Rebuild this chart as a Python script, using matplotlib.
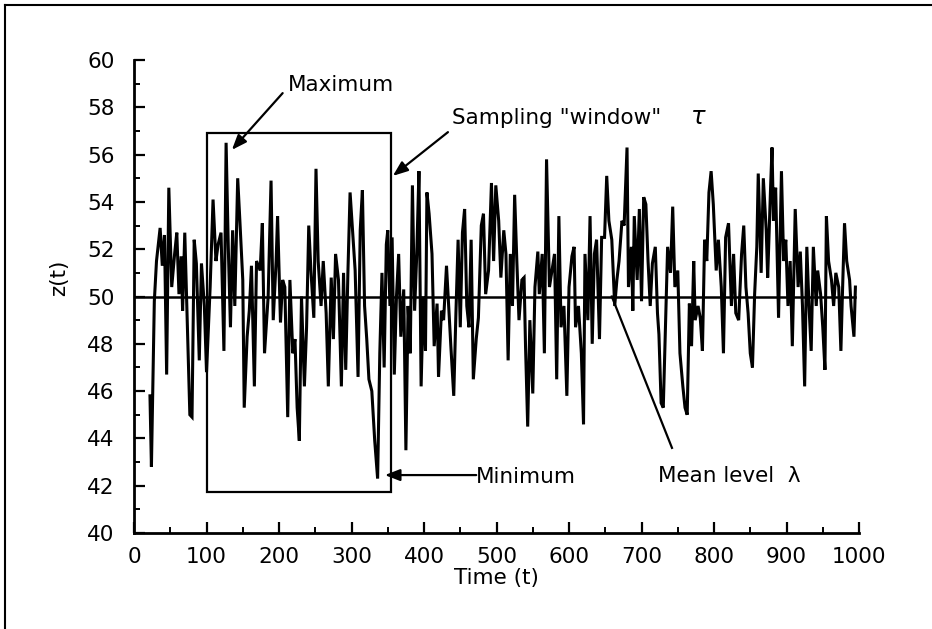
import matplotlib
matplotlib.use("Agg")
import matplotlib.pyplot as plt
from matplotlib.lines import Line2D
from matplotlib.patches import Rectangle

# time series (local peaks and troughs)
t_vals = [
    22, 24, 28, 31, 36, 39, 42, 45, 48, 52, 56, 59, 62, 65, 67, 70, 74, 77, 80,
    83, 86, 90, 93, 97, 100, 105, 109, 113, 116, 120, 124, 127, 130, 133, 136,
    139, 143, 146, 150, 152, 156, 159, 162, 166, 169, 174, 177, 180,
    185, 189, 192, 196, 198, 202, 205, 208, 212, 215, 219, 222, 225, 228, 231,
    235, 238, 241, 244, 248, 251, 254, 258, 261, 265, 268, 272, 275, 278, 282,
    286, 289, 292, 295, 298, 301, 305, 309, 312, 315, 318, 321, 324, 328, 332,
    336, 339, 342, 345, 348,
    350, 353, 356, 359, 362, 365, 368, 372, 375, 378, 381, 384, 387, 390, 393,
    396, 399, 402, 404, 407, 411, 414, 418, 420, 424, 427, 431, 434, 437, 441,
    444, 447, 450, 453, 456, 459, 462, 465, 468, 472, 475, 479, 482, 485, 489,
    493, 496, 499, 503, 506, 510,
    513, 516, 519, 522, 525, 528, 531, 535, 538, 540, 543, 546, 550, 553, 557,
    559, 563, 566, 569, 573, 576, 580, 583, 586, 589, 593, 597, 600, 604, 607,
    609, 613, 617, 620, 622, 626, 629, 632, 635, 638, 642, 645, 649, 652, 655,
    659, 663, 666, 669, 673, 676,
    680, 682, 686, 688, 690, 694, 697, 700, 703, 706, 709, 712, 715, 719, 722,
    724, 727, 730, 733, 736, 740, 743, 746, 750, 753, 757, 760, 763, 766, 769,
    772, 774, 778, 781, 784, 787, 790, 793, 796, 799, 803, 806, 810, 813, 816,
    820, 824, 827, 830, 834, 838, 841,
    844, 847, 850, 853, 856, 859, 861, 865, 868, 872, 874, 878, 880, 882, 885,
    889, 893, 896, 899, 902, 905, 908, 912, 916, 919, 922, 925, 928, 931, 934,
    937, 941, 943, 947, 950, 953, 955, 958, 962, 965, 968, 972, 975, 977, 980,
    983, 987, 989, 993, 995,
]
z_vals = [
    45.8, 42.8, 49.8, 51.5, 52.9, 51.3, 52.6, 46.7, 54.6, 50.4, 51.8, 52.7, 50.1,
    51.7, 49.4, 52.7, 48.3, 45.0, 44.9, 52.4, 51.4, 47.3, 51.4, 49.6, 46.8, 50.4,
    54.1, 51.5, 52.2, 52.7, 47.7, 56.5, 52.1, 48.7, 52.8, 49.6, 55.0, 53.2, 50.7,
    45.3, 48.3, 49.4, 51.3, 46.2, 51.5, 51.1, 53.1, 47.6,
    50.0, 54.9, 49.0, 51.5, 53.4, 48.9, 50.7, 50.4, 44.9, 50.7, 47.6, 48.2, 45.3,
    43.9, 50.0, 46.2, 48.7, 53.0, 51.1, 49.1, 55.4, 51.5, 49.6, 51.5, 49.3, 46.2,
    50.8, 48.2, 51.8, 50.7, 46.2, 51.0, 46.9, 51.0, 54.4, 53.0, 51.1, 46.6, 52.8,
    54.5, 49.6, 48.2, 46.5, 46.0, 43.9, 42.3, 47.6, 51.0, 47.0, 52.2,
    52.8, 49.6, 52.5, 46.7, 50.0, 51.8, 48.3, 50.3, 43.5, 49.6, 47.6, 54.7, 49.4,
    51.8, 55.3, 46.2, 50.0, 47.7, 54.4, 53.5, 51.8, 47.9, 49.7, 46.6, 49.4, 49.0,
    51.3, 49.6, 47.9, 45.8, 49.3, 52.4, 48.7, 52.7, 53.7, 49.6, 48.7, 52.4, 46.5,
    48.2, 49.1, 53.0, 53.5, 50.1, 51.1, 54.8, 51.5, 54.7, 53.2, 50.8, 52.8,
    51.8, 47.3, 51.8, 49.6, 54.3, 51.5, 49.0, 50.7, 50.8, 47.9, 44.5, 49.0, 45.9,
    50.4, 51.9, 50.1, 51.8, 47.6, 55.8, 50.4, 51.0, 51.8, 46.5, 53.4, 48.7, 49.6,
    45.8, 50.4, 51.7, 52.1, 48.7, 49.6, 47.6, 44.6, 51.8, 49.0, 53.4, 48.0, 51.8,
    52.4, 48.2, 52.5, 52.5, 55.1, 53.2, 52.4, 49.6, 50.7, 51.5, 53.2, 53.0,
    56.3, 50.4, 52.1, 49.4, 53.4, 50.7, 53.7, 49.8, 54.2, 53.9, 51.5, 49.6, 51.4,
    52.1, 49.3, 48.4, 45.5, 45.3, 48.7, 52.1, 51.0, 53.8, 50.4, 51.1, 47.6, 46.2,
    45.3, 45.0, 49.7, 47.9, 51.5, 49.0, 49.6, 49.1, 47.7, 52.4, 51.5, 54.4, 55.3,
    53.9, 51.1, 52.4, 50.4, 47.6, 52.5, 53.1, 49.6, 51.8, 49.3, 49.0, 51.8, 53.0,
    50.4, 49.3, 47.6, 47.0, 50.1, 52.1, 55.2, 51.0, 55.0, 52.8, 50.8, 54.6, 56.3,
    53.2, 54.6, 49.1, 55.3, 51.5, 52.4, 49.6, 51.5, 47.9, 53.7, 50.4, 51.9, 49.6,
    46.2, 52.1, 49.6, 47.7, 52.1, 49.6, 51.1, 50.1, 48.7, 46.9, 53.4, 51.5, 50.7,
    49.6, 51.0, 50.4, 47.7, 50.0, 53.1, 51.5, 50.7, 49.6, 48.3, 50.4,
]

mean_level = 50
window_t = [100, 355]
window_z = [41.75, 56.9]

x_ticks = list(range(0, 1001, 100))
y_ticks = list(range(40, 61, 2))

FS = 15.5

fig = plt.figure(figsize=(9.32, 6.29), dpi=100)
ax = fig.add_axes([0.1438, 0.1526, 0.7779, 0.752])

ax.plot(t_vals, z_vals, color='black', lw=2.2, solid_joinstyle='miter')
ax.plot([0, 995], [mean_level, mean_level], color='black', lw=1.8)

ax.add_patch(Rectangle((window_t[0], window_z[0]), window_t[1] - window_t[0],
                       window_z[1] - window_z[0], fill=False, ec='black', lw=1.6))

ax.set_xlim(0, 1000)
ax.set_ylim(40, 60)
ax.set_xticks(x_ticks)
ax.set_yticks(y_ticks)
ax.set_xticks(range(50, 1000, 100), minor=True)
ax.set_yticks(range(41, 60, 2), minor=True)
ax.tick_params(axis='both', which='major', direction='in', length=8, width=1.6,
               labelsize=FS, colors='black')
ax.tick_params(axis='both', which='minor', direction='in', length=4, width=1.4)
ax.tick_params(axis='x', pad=10)
ax.tick_params(axis='y', pad=14)
for side in ['top', 'right']:
    ax.spines[side].set_visible(False)
for side in ['left', 'bottom']:
    ax.spines[side].set_linewidth(2)

ax.set_xlabel('Time (t)', fontsize=FS)
ax.set_ylabel('z(t)', fontsize=FS)
ax.xaxis.set_label_coords(0.5, -0.075)
ax.yaxis.set_label_coords(-0.09, 0.54)

arrow = dict(arrowstyle='-|>,head_length=0.9,head_width=0.35', color='black',
             lw=1.6, shrinkA=0, shrinkB=0)

ax.annotate('', xy=(135, 56.2), xytext=(205, 58.6), arrowprops=arrow)
ax.text(212, 58.95, 'Maximum', fontsize=FS, va='center', ha='left')

ax.annotate('', xy=(357, 55.1), xytext=(433, 56.95), arrowprops=arrow)
ax.text(439, 57.55, 'Sampling "window"', fontsize=FS, va='center', ha='left')
ax.text(767, 57.6, r'$\tau$', fontsize=FS + 2, va='center', ha='left')

ax.annotate('', xy=(346, 42.45), xytext=(472, 42.45), arrowprops=arrow)
ax.text(472, 42.35, 'Minimum', fontsize=FS, va='center', ha='left')

ax.plot([659, 742], [50, 43.6], color='black', lw=1.6)
ax.text(723, 42.4, 'Mean level  λ', fontsize=FS, va='center', ha='left')

# border of the original figure (top and left edges only)
fig.add_artist(Line2D([5 / 932, 932 / 932], [1 - 5 / 629, 1 - 5 / 629],
                      color='black', lw=1.5))
fig.add_artist(Line2D([5 / 932, 5 / 932], [1 - 5 / 629, 0], color='black', lw=1.5))

fig.savefig('out.png', dpi=100)
